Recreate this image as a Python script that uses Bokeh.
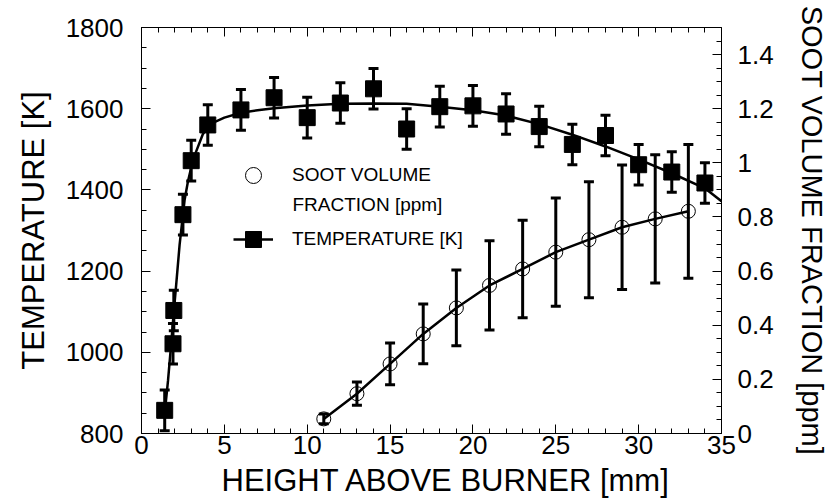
from bokeh.plotting import figure
from bokeh.models import (Range1d, LinearAxis, SingleIntervalTicker,
                          CustomJSTickFormatter, Legend, LegendItem, Label,
                          Title)
from bokeh.embed import file_html
from bokeh.resources import INLINE

# ---------------- data ----------------
# Temperature measurements [K] vs height above burner [mm]
height_T = [1.4, 1.9, 1.95, 2.5, 3.0, 4.0, 6, 8, 10, 12, 14, 16, 18, 20, 22,
            24, 26, 28, 30, 32, 34]
temp = [857, 1021, 1103, 1339, 1472, 1560, 1597, 1627, 1578, 1614, 1649,
        1550, 1605, 1607, 1587, 1556, 1512, 1534, 1462, 1444, 1417]
temp_err = [50, 50, 50, 50, 50, 50, 50, 50, 50, 50, 50, 50, 50, 50, 50,
            50, 50, 50, 50, 50, 50]

# Smooth fit through the temperature data
fit_x = [1.4, 1.6, 1.8, 1.95, 2.1, 2.3, 2.45, 2.6, 2.8, 3.0, 3.3, 3.7, 4.0,
         4.4, 5, 6, 7, 8, 10, 12, 14, 16, 18, 20, 22, 24, 26, 28, 30, 32,
         34, 35]
fit_T = [850, 930, 1025, 1100, 1170, 1265, 1320, 1375, 1420, 1455, 1495,
         1537, 1555, 1567, 1578, 1590, 1596, 1601, 1608, 1612, 1613, 1612,
         1605, 1596, 1583, 1562, 1536, 1507, 1475, 1441, 1404, 1372]

# Soot volume fraction [ppm]
height_fv = [11, 13, 15, 17, 19, 21, 23, 25, 27, 29, 31, 33]
fv = [0.054, 0.147, 0.257, 0.368, 0.464, 0.547, 0.608, 0.670, 0.716,
      0.762, 0.793, 0.821]
fv_err = [0.018, 0.043, 0.077, 0.11, 0.14, 0.165, 0.18, 0.2, 0.214, 0.23,
          0.237, 0.247]

x_label = "HEIGHT ABOVE BURNER [mm]"
yl_label = "TEMPERATURE [K]"
yr_label = "SOOT VOLUME FRACTION [ppm]"
legend_fv_1 = "SOOT VOLUME"
legend_fv_2 = "FRACTION [ppm]"
legend_T = "TEMPERATURE [K]"

FONT = "Liberation Sans"
TICK_FS = "26px"
LABEL_FS = "31px"

# ---------------- figure ----------------
p = figure(width=833, height=504, x_range=Range1d(0, 35),
           y_range=Range1d(800, 1800), output_backend="svg",
           toolbar_location=None, min_border_left=141, min_border_right=112,
           min_border_top=27, min_border_bottom=71,
           y_axis_label=yl_label)
p.extra_y_ranges = {"soot": Range1d(0, 1.5)}
p.xgrid.visible = False
p.ygrid.visible = False
p.outline_line_color = None
p.background_fill_color = "white"
p.border_fill_color = "white"

xax = p.below[0]
lax = p.left[0]
right_axis = LinearAxis(y_range_name="soot", axis_label=yr_label)
p.add_layout(right_axis, "right")
top_axis = LinearAxis()
p.add_layout(top_axis, "above")


def style_axis(ax):
    ax.axis_line_color = "black"
    ax.axis_line_width = 1
    ax.major_tick_line_color = "black"
    ax.minor_tick_line_color = "black"
    ax.major_tick_in = 9
    ax.major_tick_out = 0
    ax.minor_tick_in = 5
    ax.minor_tick_out = 0
    ax.major_label_text_font = FONT
    ax.major_label_text_font_size = TICK_FS
    ax.major_label_text_color = "black"
    ax.axis_label_text_font = FONT
    ax.axis_label_text_font_size = LABEL_FS
    ax.axis_label_text_font_style = "normal"
    ax.axis_label_text_color = "black"


for ax in (xax, lax, right_axis, top_axis):
    style_axis(ax)

xax.ticker = SingleIntervalTicker(interval=5, num_minor_ticks=5)
top_axis.ticker = SingleIntervalTicker(interval=5, num_minor_ticks=5)
top_axis.formatter = CustomJSTickFormatter(code="return ''")
top_axis.major_label_standoff = 0
lax.ticker = SingleIntervalTicker(interval=200, num_minor_ticks=4)
right_axis.ticker = SingleIntervalTicker(interval=0.2, num_minor_ticks=4)
right_axis.formatter = CustomJSTickFormatter(
    code="return String(Math.round(tick*10)/10)")
right_axis.axis_label_text_font_size = "29px"

xax.major_label_standoff = 2
lax.major_label_standoff = 18
lax.axis_label_standoff = 12
right_axis.major_label_standoff = 16
right_axis.axis_label_standoff = 19

# bottom axis title, placed as a below-title so it can be offset horizontally
xt = Title(text=x_label, align="left", offset=80, standoff=9,
           text_font=FONT, text_font_size=LABEL_FS, text_font_style="normal",
           text_color="black")
p.add_layout(xt, "below")

# ---------------- temperature ----------------
t_lo = [t - e for t, e in zip(temp, temp_err)]
t_hi = [t + e for t, e in zip(temp, temp_err)]
t_line = p.line(fit_x, fit_T, line_color="black", line_width=2.5)
p.segment(x0=height_T, y0=t_lo, x1=height_T, y1=t_hi, line_color="black",
          line_width=3)
p.scatter(height_T, t_lo, marker="dash", size=10, line_color="black",
          line_width=3)
p.scatter(height_T, t_hi, marker="dash", size=10, line_color="black",
          line_width=3)
t_sq = p.scatter(height_T, temp, marker="square", size=16,
                 fill_color="black", line_color="black")

# ---------------- soot ----------------
f_lo = [f - e for f, e in zip(fv, fv_err)]
f_hi = [f + e for f, e in zip(fv, fv_err)]
p.line(height_fv, fv, y_range_name="soot", line_color="black",
       line_width=2.5)
p.segment(x0=height_fv, y0=f_lo, x1=height_fv, y1=f_hi, y_range_name="soot",
          line_color="black", line_width=3)
p.scatter(height_fv, f_lo, marker="dash", size=10, y_range_name="soot",
          line_color="black", line_width=3)
p.scatter(height_fv, f_hi, marker="dash", size=10, y_range_name="soot",
          line_color="black", line_width=3)
f_circ = p.scatter(height_fv, fv, marker="circle", size=14,
                   y_range_name="soot", fill_color=None, line_color="black",
                   line_width=1)

# ---------------- legend ----------------
legend = Legend(items=[LegendItem(label=legend_fv_1, renderers=[f_circ]),
                       LegendItem(label=legend_T, renderers=[t_line, t_sq])],
                location=(92, 174))
legend.glyph_width = 40
legend.glyph_height = 40
legend.label_standoff = 19
legend.label_text_font = FONT
legend.label_text_font_size = "19px"
legend.label_text_color = "black"
legend.padding = 0
legend.margin = 0
legend.spacing = 24
legend.border_line_alpha = 0
legend.background_fill_alpha = 0
p.add_layout(legend)

# second line of the soot legend entry
p.add_layout(Label(x=151, y=229, x_units="screen", y_units="screen",
                   text=legend_fv_2, text_align="left",
                   text_baseline="alphabetic", text_font=FONT,
                   text_font_size="19px", text_color="black"))

open("out.html", "w").write(file_html(p, INLINE))
